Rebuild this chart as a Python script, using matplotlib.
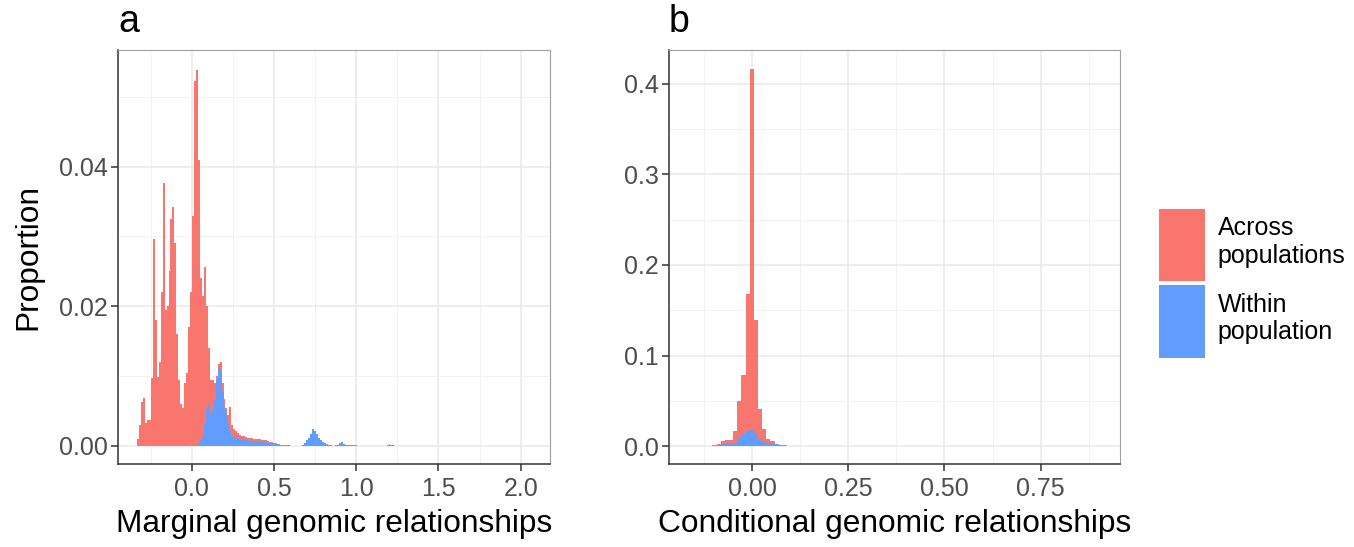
import numpy as np
import matplotlib
matplotlib.use("Agg")
import matplotlib.pyplot as plt
from matplotlib.patches import Patch
from matplotlib.ticker import MultipleLocator, FormatStrFormatter

plt.rcParams['font.family'] = ['Liberation Sans', 'DejaVu Sans']

# ---------------- data ----------------
series_labels = ["Across\npopulations", "Within\npopulation"]
series_colors = ["#F8766D", "#619CFF"]

# Panel a: marginal genomic relationships (bins of equal width)
a_first_center = -0.326
a_binwidth = 0.01194
a_across_first_bin = 0
a_across = [0.0010, 0.0030, 0.0063, 0.0068, 0.0033, 0.0037, 0.0037, 0.0097, 0.0296, 0.0180,
            0.0099, 0.0120, 0.0220, 0.0377, 0.0194, 0.0200, 0.0250, 0.0325, 0.0342, 0.0290,
            0.0160, 0.0094, 0.0060, 0.0055, 0.0090, 0.0104, 0.0170, 0.0220, 0.0330, 0.0522,
            0.0538, 0.0407, 0.0232, 0.0202, 0.0223, 0.0145, 0.0080, 0.0047, 0.0043, 0.0024,
            0.0006, 0.0006, 0.0012, 0.0012, 0.0010, 0.0008, 0.0012, 0.0035, 0.0015, 0.0011,
            0.0010, 0.0007, 0.0006, 0.0005, 0.0005, 0.0005, 0.0004, 0.0004, 0.0004, 0.0003,
            0.0004, 0.0004, 0.0004, 0.0004, 0.0004, 0.0003, 0.0003, 0.0002, 0.0001, 0.0001,
            0.0001, 0.00005, 0.00005]
a_within_first_bin = 31
a_within = [0.0003, 0.0008, 0.0013, 0.0033, 0.0055, 0.0060, 0.0047, 0.0051, 0.0066, 0.0094,
            0.0112, 0.0108, 0.0078, 0.0057, 0.0047, 0.0033, 0.0021, 0.0015, 0.0013, 0.0012,
            0.0011, 0.0010, 0.0009, 0.0009, 0.0008, 0.0008, 0.0007, 0.0007, 0.0007, 0.0006,
            0.0006, 0.0006, 0.0005, 0.0005, 0.0005, 0.0004, 0.0004, 0.0004, 0.0003, 0.0003,
            0.0003, 0.0002, 0.0002, 0.0002, 0.0001, 0.0001, 0.0001, 0.0, 0.0, 0.0,
            0.0, 0.0, 0.00005, 0.0001, 0.0004, 0.0008, 0.0012, 0.0017, 0.0024, 0.0022,
            0.0017, 0.0012, 0.0008, 0.0005, 0.0004, 0.0003, 0.0002, 0.0001, 0.00005, 0.00005,
            0.0001, 0.0002, 0.0004, 0.0005, 0.0003, 0.0002, 0.0001, 0.0001, 0.0001, 0.0001,
            0.0001, 0.00005, 0.00005, 0.0, 0.00005, 0.0, 0.00005, 0.0, 0.0, 0.00005,
            0.00005, 0.0, 0.00005, 0.0, 0.0, 0.00005, 0.0001, 0.0003, 0.0002, 0.0001]

# Panel b: conditional genomic relationships
b_first_center = -0.163
b_binwidth = 0.01078
b_across_first_bin = 5
b_across = [0.0005, 0.0008, 0.0020, 0.0033, 0.0036, 0.0036, 0.0140, 0.0404, 0.0647, 0.1506,
            0.3982, 0.1243, 0.0330, 0.0135, 0.0045, 0.0025, 0.0008, 0.0002]
b_within_first_bin = 6
b_within = [0.0004, 0.0010, 0.0022, 0.0030, 0.0030, 0.0030, 0.0092, 0.0140, 0.0170, 0.0176,
            0.0147, 0.0085, 0.0060, 0.0040, 0.0030, 0.0022, 0.0010, 0.0010, 0.0008, 0.0004,
            0.0004, 0.0003, 0.0002, 0.0003, 0.0004, 0.0002]

a_xticks = [0.0, 0.5, 1.0, 1.5, 2.0]
a_yticks = [0.00, 0.02, 0.04]
b_xticks = [0.00, 0.25, 0.50, 0.75]
b_yticks = [0.0, 0.1, 0.2, 0.3, 0.4]

# ---------------- figure ----------------
W, H = 1354, 547
fig = plt.figure(figsize=(W / 100, H / 100), dpi=100)


def px_axes(l, t, r, b):
    return fig.add_axes([l / W, 1 - b / H, (r - l) / W, (b - t) / H])


ax_a = px_axes(118, 50, 550, 464)
ax_b = px_axes(669, 50, 1120, 464)


def stacked_hist(ax, first_center, bw, across, across_first, within, within_first):
    n = max(across_first + len(across), within_first + len(within))
    acr = np.zeros(n)
    acr[across_first:across_first + len(across)] = across
    wit = np.zeros(n)
    wit[within_first:within_first + len(within)] = within
    edges = first_center - bw / 2 + bw * np.arange(n + 1)
    ax.stairs(wit, edges, baseline=0, fill=True, color=series_colors[1], lw=0, zorder=2)
    ax.stairs(wit + acr, edges, baseline=wit, fill=True, color=series_colors[0], lw=0, zorder=2)


stacked_hist(ax_a, a_first_center, a_binwidth, a_across, a_across_first_bin,
             a_within, a_within_first_bin)
stacked_hist(ax_b, b_first_center, b_binwidth, b_across, b_across_first_bin,
             b_within, b_within_first_bin)

ax_a.set_xlim(-0.448, 2.178)
ax_a.set_ylim(-0.00258, 0.0567)
ax_b.set_xlim(-0.2167, 0.9566)
ax_b.set_ylim(-0.0195, 0.437)

ax_a.set_xticks(a_xticks)
ax_a.set_yticks(a_yticks)
ax_a.xaxis.set_minor_locator(MultipleLocator(0.25))
ax_a.yaxis.set_minor_locator(MultipleLocator(0.01))
ax_a.xaxis.set_major_formatter(FormatStrFormatter('%.1f'))
ax_a.yaxis.set_major_formatter(FormatStrFormatter('%.2f'))

ax_b.set_xticks(b_xticks)
ax_b.set_yticks(b_yticks)
ax_b.xaxis.set_minor_locator(MultipleLocator(0.125))
ax_b.yaxis.set_minor_locator(MultipleLocator(0.05))
ax_b.xaxis.set_major_formatter(FormatStrFormatter('%.2f'))
ax_b.yaxis.set_major_formatter(FormatStrFormatter('%.1f'))

for ax in (ax_a, ax_b):
    ax.set_axisbelow(True)
    ax.grid(which='major', color='#EBEBEB', lw=1.2, zorder=0)
    ax.grid(which='minor', color='#F2F2F2', lw=0.7, zorder=0)
    ax.tick_params(which='major', direction='out', length=5, width=1.1, color='#333333',
                   labelcolor='#4D4D4D', labelsize=18, pad=2.5)
    ax.tick_params(axis='x', which='major', pad=4)
    ax.tick_params(which='minor', length=0)
    for s in ('left', 'bottom'):
        ax.spines[s].set_color('#333333')
        ax.spines[s].set_linewidth(1.1)
    for s in ('top', 'right'):
        ax.spines[s].set_color('#A0A0A0')
        ax.spines[s].set_linewidth(0.8)

ax_a.set_xlabel("Marginal genomic relationships", fontsize=22.8)
ax_b.set_xlabel("Conditional genomic relationships", fontsize=22.8)
ax_a.xaxis.set_label_coords(0.5, -(532 - 464) / 414, transform=ax_a.transAxes)
ax_b.xaxis.set_label_coords(0.5, -(532 - 464) / 414, transform=ax_b.transAxes)
ax_a.xaxis.label.set_va('baseline')
ax_b.xaxis.label.set_va('baseline')
ax_a.set_ylabel("Proportion", fontsize=22.8)
ax_a.yaxis.set_label_coords((28 - 118) / 432, 0.5, transform=ax_a.transAxes)
ax_a.yaxis.label.set_va('center')

fig.text(118 / W, 1 - 32 / H, "a", fontsize=27, ha='left', va='baseline')
fig.text(669 / W, 1 - 32 / H, "b", fontsize=27, ha='left', va='baseline')

handles = [Patch(facecolor=c, edgecolor='none') for c in series_colors]
fig.legend(handles=handles, labels=series_labels, loc='upper left',
           bbox_to_anchor=(1159 / W, 1 - 209 / H), frameon=False, fontsize=18,
           handlelength=1.84, handleheight=4.07, handletextpad=0.5,
           labelspacing=0.16, borderpad=0, borderaxespad=0)

fig.savefig("out.png", dpi=100)
